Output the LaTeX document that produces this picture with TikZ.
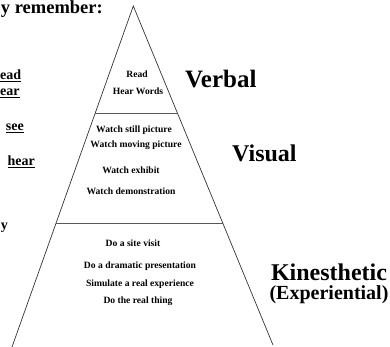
\documentclass[tikz,border=0pt]{standalone}
\usepackage{fontspec}
\setmainfont{Liberation Serif}
\begin{document}
\begin{tikzpicture}[x=1pt,y=-1pt,
  pyr/.style={font=\fontsize{9.6}{11}\selectfont\bfseries, inner sep=0pt, anchor=base},
  lbl/.style={font=\fontsize{24}{28}\selectfont\bfseries, inner sep=0pt, anchor=base west},
  frag/.style={font=\fontsize{14}{16}\selectfont\bfseries, inner sep=0pt, anchor=base east},
  pedge/.style={draw=black!80, line width=0.7pt},
  divider/.style={draw=black!65, line width=0.9pt}]
\useasboundingbox (0,0) rectangle (390,347);
\clip (0,0) rectangle (390,347);
% pyramid
\coordinate (apex) at (133.3,6);
\coordinate (bl) at (12,347);
\coordinate (br) at (273,345);
\coordinate (d1l) at (95.2,113);
\coordinate (d1r) at (177.4,113);
\coordinate (d2l) at (56.1,223);
\coordinate (d2r) at (222.7,223);
\draw[pedge] (bl) -- (apex) -- (br);
\draw[divider] (d1l) -- (d1r);
\draw[divider] (d2l) -- (d2r);
% top section
\node[pyr] (read) at (137,78) {Read};
\node[pyr] (hearw) at (138,95) {Hear Words};
% middle section
\node[pyr] (still) at (134,133) {Watch still picture};
\node[pyr] (moving) at (136,148) {Watch moving picture};
\node[pyr] (exhibit) at (131,174) {Watch exhibit};
\node[pyr] (demo) at (131,194) {Watch demonstration};
% bottom section
\node[pyr] (site) at (133,246) {Do a site visit};
\node[pyr] (drama) at (140,268) {Do a dramatic presentation};
\node[pyr] (simul) at (140,286) {Simulate a real experience};
\node[pyr] (real) at (138,303) {Do the real thing};
% right labels
\node[lbl, font=\fontsize{25}{28}\selectfont\bfseries] (verbal) at (185,88) {Verbal};
\node[lbl] (visual) at (232,162) {Visual};
\node[lbl, anchor=base] (kin) at (329,280) {Kinesthetic};
\node[lbl, anchor=base, font=\fontsize{20}{24}\selectfont\bfseries] (exp) at (329,299) {(Experiential)};
% left fragments
\node[frag, font=\fontsize{18.5}{22}\selectfont\bfseries] (rem) at (103,13.5) {y remember:};
\node[frag, anchor=base west] (ead) at (0,80) {\underline{ead}};
\node[frag, anchor=base west] (ear) at (0,96) {\underline{ear}};
\node[frag] (see) at (24,131) {\underline{see}};
\node[frag] (hear) at (35,166) {\underline{hear}};
\node[frag] (yy) at (8,229) {y};
\end{tikzpicture}
\end{document}
